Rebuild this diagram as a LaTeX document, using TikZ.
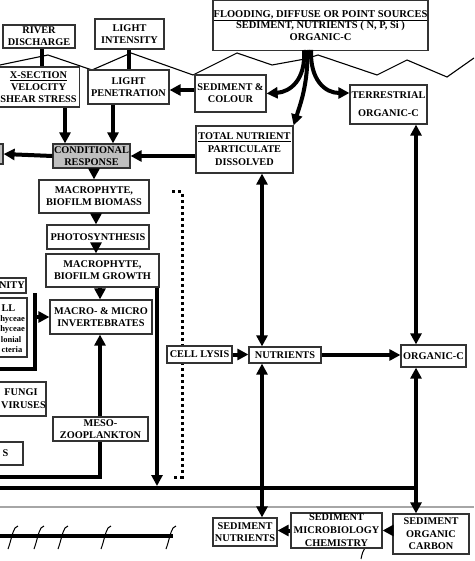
\documentclass[tikz,border=0pt]{standalone}
\usepackage{fontspec}
\setmainfont{Liberation Serif}
\usetikzlibrary{arrows.meta,calc}
\begin{document}
\begin{tikzpicture}[x=1pt,y=-1pt,
  >={Triangle[length=11pt,width=11pt]},
  bx/.style={draw=black!80, line width=1.2pt, fill=white, align=center, inner sep=0pt,
    font=\bfseries\fontsize{10.3}{12}\selectfont},
  txt/.style={inner sep=0pt, font=\bfseries\fontsize{10.3}{12}\selectfont},
  smalltxt/.style={inner sep=0pt, font=\bfseries\fontsize{8.5}{10}\selectfont},
  fat/.style={line width=4pt},
  farr/.style={line width=4pt, ->},
  farrr/.style={line width=4pt, <->},
  tick/.style={line width=1pt},
]
\useasboundingbox (0,0) rectangle (474,561);
\clip (0,0) rectangle (474,561);

% water surface
\draw[line width=1.1pt] (0,65) -- (48,55) -- (92,70) -- (131,53) -- (193,75) -- (237,53) -- (272,65) -- (305,59) -- (318,55) -- (377,75) -- (407,60) -- (447,77) -- (474,58);

% sediment line
\draw[gray!70, line width=1.5pt] (0,507) -- (474,507);
\draw[line width=4pt] (0,536) -- (173,536);
\foreach \t in {8,34,58,101,166}{
  \draw[tick] (\t,549) .. controls (\t+3,541) and (\t+4,533) .. (\t+7,528) -- (\t+10,526);
}
\draw[tick] (361,559) .. controls (362,554) and (363,550) .. (366,547);

% helper coordinates
\coordinate (c42) at (42,0);
\coordinate (c129) at (129,0);
\coordinate (c65) at (65,0);
\coordinate (c113) at (113,0);
\coordinate (c94) at (94,0);
\coordinate (c96) at (96,0);
\coordinate (c100) at (100,0);
\coordinate (c157) at (157,0);
\coordinate (c262) at (262,0);
\coordinate (c416) at (416,0);
\coordinate (r90) at (0,90);
\coordinate (r93) at (0,93);
\coordinate (r530) at (0,530.5);
\coordinate (h488) at (0,488);
\coordinate (h486) at (0,486);
\coordinate (e418) at (418,0);
\coordinate (z0) at (0,477);
\coordinate (b1) at (35,293);
\coordinate (b2) at (0,369);
\coordinate (fa) at (304,50);
\coordinate (fb) at (307.5,50);
\coordinate (fc) at (311,50);
\coordinate (d1) at (172,192);
\coordinate (d2) at (182,192);
\coordinate (d3) at (182,477);
\coordinate (d4) at (172,477);

% dotted bracket (behind the boxes)
\draw[line width=3pt, dash pattern=on 3pt off 3pt] (d1) -- (d2) -- (d3) -- (d4);

% boxes
\node[bx, minimum width=72pt, minimum height=23pt] (river) at (39,36.5) {RIVER\\DISCHARGE};
\node[bx, minimum width=69pt, minimum height=30pt] (lint) at (129.5,34) {LIGHT\\INTENSITY};
\node[bx, minimum width=82pt, minimum height=40pt] (xsec) at (38.5,87) {\underline{X-SECTION}\\VELOCITY\\SHEAR STRESS};
\node[bx, minimum width=81pt, minimum height=34pt] (lpen) at (128.5,87) {LIGHT\\PENETRATION};
\node[bx, minimum width=71pt, minimum height=37pt] (sedcol) at (230.5,93.5) {SEDIMENT \&\\COLOUR};
\node[bx, minimum width=215pt, minimum height=50pt, font=\bfseries\fontsize{10.5}{11.6}\selectfont] (flood) at (320.5,25.5) {\underline{FLOODING, DIFFUSE OR POINT SOURCES}\\SEDIMENT, NUTRIENTS ( N, P, Si )\\ORGANIC-C};
\node[bx, minimum width=77pt, minimum height=39pt] (terr) at (388.5,104.5) {TERRESTRIAL\\[6pt]ORGANIC-C};
\node[bx, minimum width=97pt, minimum height=47pt, font=\bfseries\fontsize{10.3}{13}\selectfont] (totn) at (244.5,149.5) {\underline{TOTAL NUTRIENT}\\PARTICULATE\\DISSOLVED};
\node[bx, fill=black!25, minimum width=77pt, minimum height=24pt] (cond) at (91.5,156) {CONDITIONAL\\RESPONSE};
\node[bx, fill=black!25, minimum width=23pt, minimum height=20pt] (grayb) at (-8.5,154) {};
\node[bx, minimum width=110pt, minimum height=33pt] (biom) at (94,196.5) {MACROPHYTE,\\BIOFILM BIOMASS};
\node[bx, minimum width=102pt, minimum height=24pt] (photo) at (98,237) {PHOTOSYNTHESIS};
\node[bx, minimum width=113pt, minimum height=33pt] (grow) at (102.5,270.5) {MACROPHYTE,\\BIOFILM GROWTH};
\node[bx, minimum width=102pt, minimum height=34pt] (inv) at (101,317) {MACRO- \& MICRO\\INVERTEBRATES};
\node[bx, minimum width=95pt, minimum height=24pt] (meso) at (100.5,429) {MESO-\\ZOOPLANKTON};
\node[bx, minimum width=65pt, minimum height=17pt] (lysis) at (199.5,354.5) {CELL LYSIS};
\node[bx, minimum width=72pt, minimum height=16pt] (nutr) at (285,355) {NUTRIENTS};
\node[bx, minimum width=65pt, minimum height=22pt] (orgc) at (433.5,356) {ORGANIC-C};
\node[bx, minimum width=64pt, minimum height=28pt] (sednut) at (245,532) {SEDIMENT\\NUTRIENTS};
\node[bx, minimum width=91pt, minimum height=35pt, font=\bfseries\fontsize{10.3}{13}\selectfont] (sedmic) at (336.5,530.5) {SEDIMENT\\MICROBIOLOGY\\CHEMISTRY};
\node[bx, minimum width=76pt, minimum height=40pt, font=\bfseries\fontsize{10.3}{12.5}\selectfont] (sedorg) at (431,534) {SEDIMENT\\ORGANIC\\CARBON};

% cut-off boxes at the left edge
\node[bx, minimum width=46pt, minimum height=15pt] (comm) at (3,285.5) {};
\node[txt, anchor=east] (commt) at (25,285.5) {NITY};
\node[bx, minimum width=47pt, minimum height=59pt] (smallb) at (3.5,327.5) {};
\node[txt, anchor=east] (s1) at (15.5,308) {LL};
\node[smalltxt, anchor=east] (s2) at (25,319.5) {hyceae};
\node[smalltxt, anchor=east] (s3) at (25,329.5) {hyceae};
\node[smalltxt, anchor=east] (s4) at (21.5,339.5) {lonial};
\node[smalltxt, anchor=east] (s5) at (22.5,349.5) {cteria};
\node[bx, minimum width=66pt, minimum height=34pt] (fungi) at (13,399) {};
\node[txt] (f1) at (21,392.5) {FUNGI};
\node[txt] (f2) at (23.5,405) {VIRUSES};
\node[bx, minimum width=43pt, minimum height=23pt] (sb) at (1.5,453.5) {};
\node[txt] (sbt) at (5.5,453.5) {S};

% connectors
\draw[fat] (river.south -| c42) -- (xsec.north -| c42);
\draw[fat] (lint.south -| c129) -- (lpen.north -| c129);
\draw[farr] (xsec.south -| c65) -- (cond.north -| c65);
\draw[farr] (lpen.south -| c113) -- (cond.north -| c113);
\draw[farr] (sedcol.west |- r90) -- (lpen.east |- r90);
\draw[farr] (totn.west |- cond.east) -- (cond.east);
\draw[farr] (cond.west) -- (grayb.east);
\draw[farr] (cond.south -| c94) -- (biom.north -| c94);
\draw[farr] (biom.south -| c96) -- (photo.north -| c96);
\draw[farr] (photo.south -| c96) -- (grow.north -| c96);
\draw[farr] (grow.south -| c100) -- (inv.north -| c100);
\draw[farr] (meso.north -| c100) -- (inv.south -| c100);
\draw[fat] (z0) -| (meso.south -| c100);
\draw[fat] (b1) |- (b2);
\draw[farr] (b1 |- inv.west) -- (inv.west);

\draw[farr] (fa) .. controls (306,80) and (290,92) .. (sedcol.east);
\draw[farr] (fb) .. controls (308,85) and (300,105) .. (totn.north east);
\draw[farr] (fc) .. controls (310,80) and (325,93) .. (terr.west |- r93);

\draw[fat] (h488) -- (h488 -| e418);
\draw[farr] (grow.south -| c157) -- (h486 -| c157);
\draw[farrr] (totn.south -| c262) -- (nutr.north -| c262);
\draw[farrr] (nutr.south -| c262) -- (sednut.north -| c262);
\draw[farrr] (terr.south -| c416) -- (orgc.north -| c416);
\draw[farrr] (orgc.south -| c416) -- (sedorg.north -| c416);
\draw[farr] (lysis.east) -- (nutr.west |- lysis.east);
\draw[farr] (nutr.east) -- (orgc.west |- nutr.east);
\draw[farr] (sedorg.west |- r530) -- (sedmic.east |- r530);
\draw[farr] (sedmic.west |- r530) -- (sednut.east |- r530);
\end{tikzpicture}
\end{document}
